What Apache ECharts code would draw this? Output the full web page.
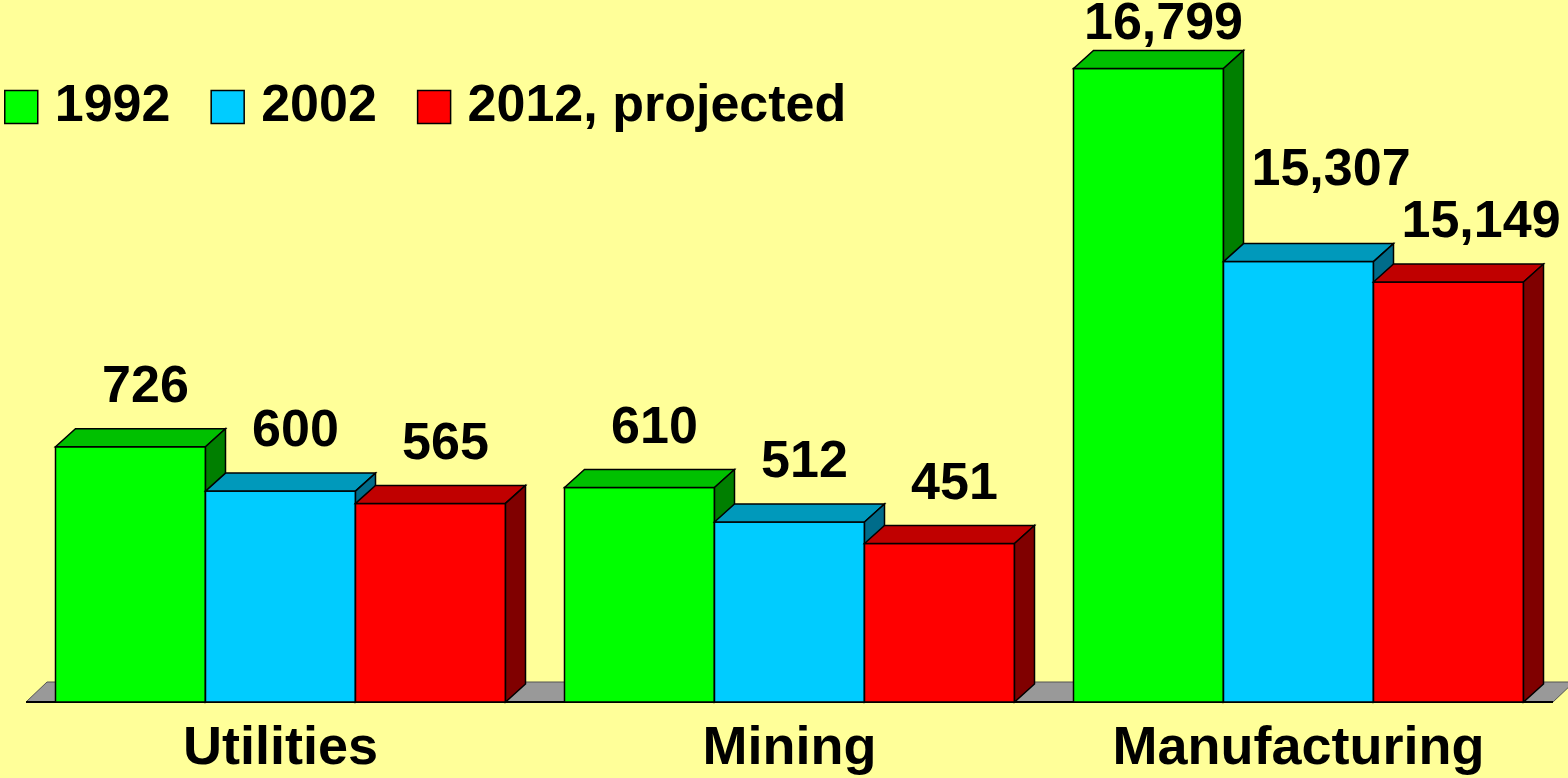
<!DOCTYPE html>
<html>
<head>
<meta charset="utf-8">
<script src="https://cdn.jsdelivr.net/npm/echarts@6/dist/echarts.min.js"></script>
<style>
  html, body { margin: 0; padding: 0; background: #FFFF99; }
  #chart { width: 1568px; height: 778px; }
</style>
</head>
<body>
<div id="chart"></div>
<script>
const categories = ['Utilities', 'Mining', 'Manufacturing'];
const seriesNames = ['1992', '2002', '2012, projected'];
const values1992 = [726, 610, 16799];
const values2002 = [600, 512, 15307];
const values2012 = [565, 451, 15149];
const allValues = [values1992, values2002, values2012];

// Utilities and Mining share one scale, Manufacturing has its own (broken) one
const smallAxisMax = 1795;
const bigAxisMin = 11904;
const bigAxisMax = 16780;
const bigCategories = ['Manufacturing'];

const frontColors = ['#00FF00', '#00CCFF', '#FF0000'];
const topColors = ['#00C000', '#0099BB', '#C00000'];
const sideColors = ['#007F00', '#006C8A', '#800000'];

const FONT = '"Liberation Sans", Arial, sans-serif';
const LABEL_FONT = 'bold 52px ' + FONT;
const DX = 20, DY = -18;
const BAR_FRAC = 0.2947;

const chart = echarts.init(document.getElementById('chart'));

const measureCtx = document.createElement('canvas').getContext('2d');
function textWidth(t, font) {
  measureCtx.font = font;
  return measureCtx.measureText(t).width;
}

// label boxes of all three bars of one category, pushed apart when they collide
function labelLayout(api, cat) {
  const bandW = api.size([1, 0])[0];
  const bw = bandW * BAR_FRAC;
  const boxes = allValues.map((vals, j) => {
    const pt = api.coord([cat, vals[cat]]);
    const left = pt[0] - 1.5 * bw + j * bw;
    const txt = vals[cat].toLocaleString('en-US');
    const w = textWidth(txt, LABEL_FONT);
    let tx = left + bw / 2 + 15 - w / 2;
    if (j > 0) tx = Math.max(tx, left + DX + 8);
    return { txt: txt, x: tx, w: w, y: Math.max(pt[1] + DY - 41, 25) };
  });
  for (let j = boxes.length - 1; j > 0; j--) {
    const a = boxes[j - 1], b = boxes[j];
    if (b.x < a.x + a.w && b.y - a.y < 52) a.y = Math.max(b.y - 52, 25);
  }
  return boxes;
}

function barRenderer(k) {
  return function (params, api) {
    const cs = params.coordSys;
    const cat = api.value(0);
    const val = api.value(1);
    const pt = api.coord([cat, val]);
    const bandW = api.size([1, 0])[0];
    const bw = bandW * BAR_FRAC;
    const left = pt[0] - 1.5 * bw + k * bw;
    const right = left + bw;
    const yTop = pt[1];
    const yBase = cs.y + cs.height;
    const lab = labelLayout(api, cat)[k];

    const edge = { stroke: '#000', lineWidth: 1.5 };
    return {
      type: 'group',
      children: [
        { type: 'rect', shape: { x: left, y: yTop, width: bw, height: yBase - yTop },
          style: Object.assign({ fill: frontColors[k] }, edge) },
        { type: 'polygon', shape: { points: [[left, yTop], [left + DX, yTop + DY], [right + DX, yTop + DY], [right, yTop]] },
          style: Object.assign({ fill: topColors[k] }, edge) },
        { type: 'polygon', shape: { points: [[right, yTop], [right + DX, yTop + DY], [right + DX, yBase + DY], [right, yBase]] },
          style: Object.assign({ fill: sideColors[k] }, edge) },
        { type: 'text', style: { text: lab.txt, x: lab.x, y: lab.y, font: LABEL_FONT, fill: '#000', align: 'left', verticalAlign: 'middle' } }
      ]
    };
  };
}

function floorRenderer(params, api) {
  const cs = params.coordSys;
  const yb = cs.y + cs.height;
  const x0 = cs.x, x1 = cs.x + cs.width;
  return {
    type: 'group',
    children: [
      { type: 'polygon', shape: { points: [[x0, yb], [x0 + 21, yb - 20], [x1 + 21, yb - 20], [x1, yb]] },
        style: { fill: '#999999', stroke: '#555', lineWidth: 1 } },
      { type: 'line', shape: { x1: x0, y1: yb, x2: x1, y2: yb }, style: { stroke: '#000', lineWidth: 2 } }
    ]
  };
}

const series = [{
  type: 'custom',
  renderItem: floorRenderer,
  xAxisIndex: 0,
  yAxisIndex: 0,
  silent: true,
  clip: false,
  data: [[0, 0]]
}];

// small scale bars
seriesNames.forEach((name, k) => {
  series.push({
    name: name,
    type: 'custom',
    renderItem: barRenderer(k),
    xAxisIndex: 0,
    yAxisIndex: 0,
    clip: false,
    itemStyle: { color: frontColors[k] },
    encode: { x: 0, y: 1 },
    data: categories.map((c, i) => [i, allValues[k][i]]).filter(d => bigCategories.indexOf(categories[d[0]]) < 0)
  });
});
// big scale bars
seriesNames.forEach((name, k) => {
  series.push({
    name: name,
    type: 'custom',
    renderItem: barRenderer(k),
    xAxisIndex: 0,
    yAxisIndex: 1,
    clip: false,
    itemStyle: { color: frontColors[k] },
    encode: { x: 0, y: 1 },
    data: categories.map((c, i) => [i, allValues[k][i]]).filter(d => bigCategories.indexOf(categories[d[0]]) >= 0)
  });
});

const option = {
  backgroundColor: '#FFFF99',
  animation: false,
  legend: {
    data: seriesNames,
    left: 4,
    top: 81,
    padding: 0,
    icon: 'rect',
    itemWidth: 33,
    itemHeight: 33,
    itemGap: 40,
    selectedMode: false,
    itemStyle: { borderColor: '#000', borderWidth: 1.5 },
    textStyle: { fontSize: 52, fontWeight: 'bold', color: '#000', fontFamily: FONT, lineHeight: 33, padding: [0, 0, 0, 12] }
  },
  grid: {
    left: 26,
    right: 15,
    top: 71,
    bottom: 76,
    containLabel: false,
    outerBoundsMode: 'none'
  },
  xAxis: {
    type: 'category',
    data: categories,
    boundaryGap: true,
    axisLine: { show: false },
    axisTick: { show: false },
    axisLabel: { fontSize: 54, fontWeight: 'bold', color: '#000', fontFamily: FONT, margin: 20, interval: 0 }
  },
  yAxis: [
    { type: 'value', min: 0, max: smallAxisMax, show: false },
    { type: 'value', min: bigAxisMin, max: bigAxisMax, show: false }
  ],
  series: series
};

chart.setOption(option);
</script>
</body>
</html>
